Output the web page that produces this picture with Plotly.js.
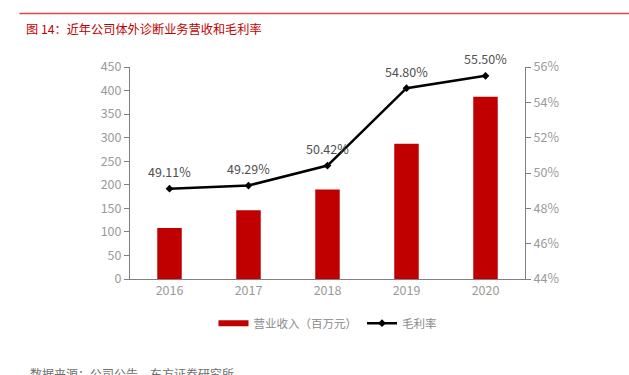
<!DOCTYPE html>
<html><head><meta charset="utf-8">
<script src="https://cdn.plot.ly/plotly-3.0.1.min.js"></script>
<style>html,body{margin:0;padding:0;background:#fff;}#c{width:629px;height:375px;}</style>
</head><body><div id="c"></div>
<script>
var years = ['2016', '2017', '2018', '2019', '2020'];
var revenue = [108, 146, 190, 287, 387];
var margin = [49.11, 49.29, 50.42, 54.80, 55.50];
var marginLabels = ['49.11%', '49.29%', '50.42%', '54.80%', '55.50%'];
var leftTicks = [0, 50, 100, 150, 200, 250, 300, 350, 400, 450];
var rightTicks = [44, 46, 48, 50, 52, 54, 56];
var rightTickText = ['44%', '46%', '48%', '50%', '52%', '54%', '56%'];

var F = '"Noto Sans CJK SC", "Open Sans", sans-serif';
var TICKF = {family: F, size: 12.5, color: '#9a9a9a'};
var traces = [
  {type: 'bar', x: years, y: revenue, name: '营业收入（百万元）', showlegend: false,
   marker: {color: '#C00000'}, width: 0.31, yaxis: 'y'},
  {type: 'scatter', mode: 'lines', x: [years[0]], y: [null], name: '营业收入（百万元）',
   line: {color: '#C00000', width: 6}, yaxis: 'y', hoverinfo: 'skip', legendrank: 1},
  {type: 'scatter', mode: 'lines+markers', x: years, y: margin, name: '毛利率', legendrank: 2,
   yaxis: 'y2', line: {color: '#000', width: 2.5}, marker: {color: '#000', size: 6, symbol: 'diamond'},
   cliponaxis: false}
];
var annotations = marginLabels.map(function (t, i) {
  return {x: years.indexOf(years[i]), y: margin[i], xref: 'x', yref: 'y2', text: t, showarrow: false,
          yanchor: 'middle', yshift: 17, font: {family: F, size: 12.5, color: '#505050'}};
});
annotations.push(
  {xref: 'paper', yref: 'paper', x: -0.268, y: 1.18, xanchor: 'left', yanchor: 'middle', showarrow: false,
   text: '图 14：近年公司体外诊断业务营收和毛利率', font: {family: F, size: 12.2, color: '#C00000'}},
  {xref: 'paper', yref: 'paper', x: -0.258, y: -0.445, xanchor: 'left', yanchor: 'middle', showarrow: false,
   text: '数据来源：公司公告，东方证券研究所', font: {family: F, size: 12, color: '#707070'}}
);
var layout = {
  width: 629, height: 375,
  margin: {l: 130, r: 104, t: 67, b: 96},
  paper_bgcolor: '#fff', plot_bgcolor: '#fff',
  font: {family: F, color: '#808080', size: 12},
  showlegend: true,
  legend: {orientation: 'h', x: 0.5, xanchor: 'center', y: -0.14, yanchor: 'top',
           font: {family: F, size: 11.5, color: '#8a8a8a'}, traceorder: 'normal'},
  xaxis: {type: 'category', categoryorder: 'array', categoryarray: years, range: [-0.5, 4.5],
          showline: true, linecolor: '#808080', linewidth: 1,
          ticks: '', tickfont: TICKF, showgrid: false, zeroline: false},
  yaxis: {range: [0, 450], tickvals: leftTicks, showline: true, linecolor: '#808080', linewidth: 1,
          ticks: 'outside', ticklen: 5, tickcolor: '#808080', showgrid: false, zeroline: false,
          tickfont: TICKF},
  yaxis2: {overlaying: 'y', side: 'right', range: [44, 56], tickvals: rightTicks, ticktext: rightTickText,
           showline: true, linecolor: '#808080', linewidth: 1, ticks: 'outside', ticklen: 5,
           tickcolor: '#808080', showgrid: false, zeroline: false, tickfont: TICKF},
  shapes: [{type: 'line', xref: 'paper', yref: 'paper', x0: -0.28, x1: 1.27, y0: 1.252, y1: 1.252,
            line: {color: '#E04848', width: 1.5}}],
  annotations: annotations
};
Plotly.newPlot('c', traces, layout, {displayModeBar: false, staticPlot: true});
</script></body></html>
